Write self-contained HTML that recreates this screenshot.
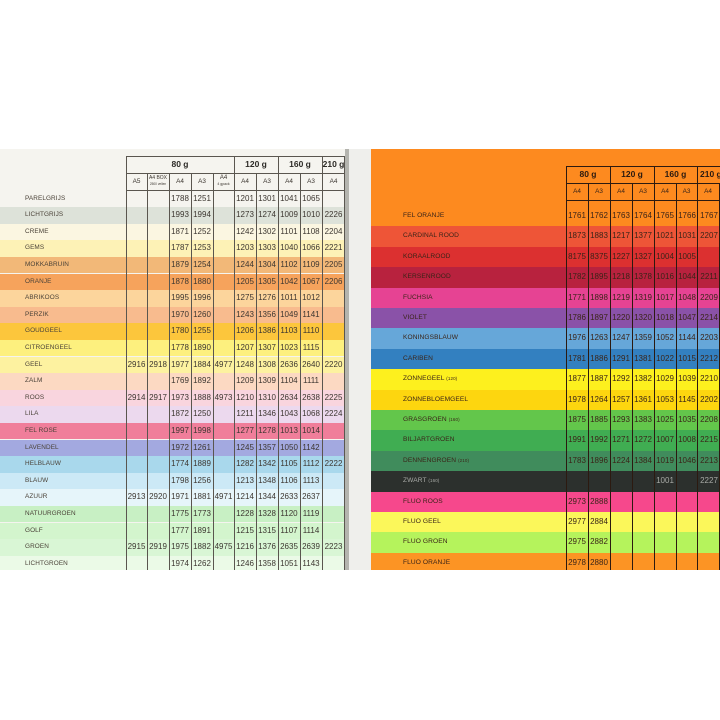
<!DOCTYPE html>
<html><head><meta charset="utf-8">
<style>
*{margin:0;padding:0;box-sizing:border-box}
body{width:720px;height:720px;background:#fff;position:relative;overflow:hidden;font-family:"Liberation Sans",sans-serif}
.a{position:absolute}
.lp{left:0;top:149px;width:346px;height:421px;background:#f5f4ef}
.sp{left:345px;top:149px;width:4px;height:421px;background:#b4b4ae}
.sp2{left:349px;top:149px;width:22px;height:421px;background:#efefec}
.rp{left:371px;top:149px;width:349px;height:421px;background:#fd8a1f}
.lr{position:absolute;left:0;width:345px;height:16.6px}
.lr .n{position:absolute;left:25px;top:0;line-height:16.6px;font-size:6.4px;color:#4a4238;letter-spacing:0.1px}
.lr .c{position:absolute;top:0;line-height:16.6px;font-size:8px;color:#3c3630;text-align:center}
.rr{position:absolute;left:371px;width:349px;height:20.4px}
.rr .n{position:absolute;left:32px;top:0;line-height:20.4px;font-size:6.6px;color:#3a2418;letter-spacing:0.1px}
.rr .n small{font-size:4.5px}
.rr .c{position:absolute;top:0;line-height:20.4px;font-size:8px;color:#3a2418;text-align:center}
.vl{position:absolute;width:1px;background:#5a564f}
.hl{position:absolute;height:1px;background:#5a564f}
.vr{position:absolute;width:1px;background:#2c1a10}
.hr{position:absolute;height:1px;background:#2c1a10}
.h{position:absolute;text-align:center;font-weight:bold;font-size:8.5px;color:#2c2a26}
.s{position:absolute;text-align:center;font-size:6.4px;color:#3c3630}
</style></head><body>
<div class="a lp"></div>
<div class="a sp"></div>
<div class="a sp2"></div>
<div class="a rp"></div>

<!-- left rows -->
<div class="lr" style="top:190.5px;background:#f5f4ef"><span class="n">PARELGRIJS</span><span class="c" style="left:169px;width:22px">1788</span><span class="c" style="left:191px;width:22px">1251</span><span class="c" style="left:234px;width:22px">1201</span><span class="c" style="left:256px;width:22px">1301</span><span class="c" style="left:278px;width:22px">1041</span><span class="c" style="left:300px;width:22px">1065</span></div>
<div class="lr" style="top:207.1px;background:#dde2d9"><span class="n">LICHTGRIJS</span><span class="c" style="left:169px;width:22px">1993</span><span class="c" style="left:191px;width:22px">1994</span><span class="c" style="left:234px;width:22px">1273</span><span class="c" style="left:256px;width:22px">1274</span><span class="c" style="left:278px;width:22px">1009</span><span class="c" style="left:300px;width:22px">1010</span><span class="c" style="left:322px;width:23px">2226</span></div>
<div class="lr" style="top:223.7px;background:#fbf6e1"><span class="n">CREME</span><span class="c" style="left:169px;width:22px">1871</span><span class="c" style="left:191px;width:22px">1252</span><span class="c" style="left:234px;width:22px">1242</span><span class="c" style="left:256px;width:22px">1302</span><span class="c" style="left:278px;width:22px">1101</span><span class="c" style="left:300px;width:22px">1108</span><span class="c" style="left:322px;width:23px">2204</span></div>
<div class="lr" style="top:240.3px;background:#fdf2b6"><span class="n">GEMS</span><span class="c" style="left:169px;width:22px">1787</span><span class="c" style="left:191px;width:22px">1253</span><span class="c" style="left:234px;width:22px">1203</span><span class="c" style="left:256px;width:22px">1303</span><span class="c" style="left:278px;width:22px">1040</span><span class="c" style="left:300px;width:22px">1066</span><span class="c" style="left:322px;width:23px">2221</span></div>
<div class="lr" style="top:256.9px;background:#f2b878"><span class="n">MOKKABRUIN</span><span class="c" style="left:169px;width:22px">1879</span><span class="c" style="left:191px;width:22px">1254</span><span class="c" style="left:234px;width:22px">1244</span><span class="c" style="left:256px;width:22px">1304</span><span class="c" style="left:278px;width:22px">1102</span><span class="c" style="left:300px;width:22px">1109</span><span class="c" style="left:322px;width:23px">2205</span></div>
<div class="lr" style="top:273.5px;background:#f6a35c"><span class="n">ORANJE</span><span class="c" style="left:169px;width:22px">1878</span><span class="c" style="left:191px;width:22px">1880</span><span class="c" style="left:234px;width:22px">1205</span><span class="c" style="left:256px;width:22px">1305</span><span class="c" style="left:278px;width:22px">1042</span><span class="c" style="left:300px;width:22px">1067</span><span class="c" style="left:322px;width:23px">2206</span></div>
<div class="lr" style="top:290.1px;background:#fcd59c"><span class="n">ABRIKOOS</span><span class="c" style="left:169px;width:22px">1995</span><span class="c" style="left:191px;width:22px">1996</span><span class="c" style="left:234px;width:22px">1275</span><span class="c" style="left:256px;width:22px">1276</span><span class="c" style="left:278px;width:22px">1011</span><span class="c" style="left:300px;width:22px">1012</span></div>
<div class="lr" style="top:306.7px;background:#f8bb8e"><span class="n">PERZIK</span><span class="c" style="left:169px;width:22px">1970</span><span class="c" style="left:191px;width:22px">1260</span><span class="c" style="left:234px;width:22px">1243</span><span class="c" style="left:256px;width:22px">1356</span><span class="c" style="left:278px;width:22px">1049</span><span class="c" style="left:300px;width:22px">1141</span></div>
<div class="lr" style="top:323.3px;background:#fcc63c"><span class="n">GOUDGEEL</span><span class="c" style="left:169px;width:22px">1780</span><span class="c" style="left:191px;width:22px">1255</span><span class="c" style="left:234px;width:22px">1206</span><span class="c" style="left:256px;width:22px">1386</span><span class="c" style="left:278px;width:22px">1103</span><span class="c" style="left:300px;width:22px">1110</span></div>
<div class="lr" style="top:339.9px;background:#fdf07e"><span class="n">CITROENGEEL</span><span class="c" style="left:169px;width:22px">1778</span><span class="c" style="left:191px;width:22px">1890</span><span class="c" style="left:234px;width:22px">1207</span><span class="c" style="left:256px;width:22px">1307</span><span class="c" style="left:278px;width:22px">1023</span><span class="c" style="left:300px;width:22px">1115</span></div>
<div class="lr" style="top:356.5px;background:#fdf2a0"><span class="n">GEEL</span><span class="c" style="left:126px;width:21px">2916</span><span class="c" style="left:147px;width:22px">2918</span><span class="c" style="left:169px;width:22px">1977</span><span class="c" style="left:191px;width:22px">1884</span><span class="c" style="left:213px;width:21px">4977</span><span class="c" style="left:234px;width:22px">1248</span><span class="c" style="left:256px;width:22px">1308</span><span class="c" style="left:278px;width:22px">2636</span><span class="c" style="left:300px;width:22px">2640</span><span class="c" style="left:322px;width:23px">2220</span></div>
<div class="lr" style="top:373.1px;background:#fcd9c2"><span class="n">ZALM</span><span class="c" style="left:169px;width:22px">1769</span><span class="c" style="left:191px;width:22px">1892</span><span class="c" style="left:234px;width:22px">1209</span><span class="c" style="left:256px;width:22px">1309</span><span class="c" style="left:278px;width:22px">1104</span><span class="c" style="left:300px;width:22px">1111</span></div>
<div class="lr" style="top:389.7px;background:#f9d5de"><span class="n">ROOS</span><span class="c" style="left:126px;width:21px">2914</span><span class="c" style="left:147px;width:22px">2917</span><span class="c" style="left:169px;width:22px">1973</span><span class="c" style="left:191px;width:22px">1888</span><span class="c" style="left:213px;width:21px">4973</span><span class="c" style="left:234px;width:22px">1210</span><span class="c" style="left:256px;width:22px">1310</span><span class="c" style="left:278px;width:22px">2634</span><span class="c" style="left:300px;width:22px">2638</span><span class="c" style="left:322px;width:23px">2225</span></div>
<div class="lr" style="top:406.3px;background:#ecd9ee"><span class="n">LILA</span><span class="c" style="left:169px;width:22px">1872</span><span class="c" style="left:191px;width:22px">1250</span><span class="c" style="left:234px;width:22px">1211</span><span class="c" style="left:256px;width:22px">1346</span><span class="c" style="left:278px;width:22px">1043</span><span class="c" style="left:300px;width:22px">1068</span><span class="c" style="left:322px;width:23px">2224</span></div>
<div class="lr" style="top:422.9px;background:#f07e9a"><span class="n">FEL ROSE</span><span class="c" style="left:169px;width:22px">1997</span><span class="c" style="left:191px;width:22px">1998</span><span class="c" style="left:234px;width:22px">1277</span><span class="c" style="left:256px;width:22px">1278</span><span class="c" style="left:278px;width:22px">1013</span><span class="c" style="left:300px;width:22px">1014</span></div>
<div class="lr" style="top:439.5px;background:#a3a9e0"><span class="n">LAVENDEL</span><span class="c" style="left:169px;width:22px">1972</span><span class="c" style="left:191px;width:22px">1261</span><span class="c" style="left:234px;width:22px">1245</span><span class="c" style="left:256px;width:22px">1357</span><span class="c" style="left:278px;width:22px">1050</span><span class="c" style="left:300px;width:22px">1142</span></div>
<div class="lr" style="top:456.1px;background:#a9d8ec"><span class="n">HELBLAUW</span><span class="c" style="left:169px;width:22px">1774</span><span class="c" style="left:191px;width:22px">1889</span><span class="c" style="left:234px;width:22px">1282</span><span class="c" style="left:256px;width:22px">1342</span><span class="c" style="left:278px;width:22px">1105</span><span class="c" style="left:300px;width:22px">1112</span><span class="c" style="left:322px;width:23px">2222</span></div>
<div class="lr" style="top:472.7px;background:#cce9f6"><span class="n">BLAUW</span><span class="c" style="left:169px;width:22px">1798</span><span class="c" style="left:191px;width:22px">1256</span><span class="c" style="left:234px;width:22px">1213</span><span class="c" style="left:256px;width:22px">1348</span><span class="c" style="left:278px;width:22px">1106</span><span class="c" style="left:300px;width:22px">1113</span></div>
<div class="lr" style="top:489.3px;background:#e6f5fa"><span class="n">AZUUR</span><span class="c" style="left:126px;width:21px">2913</span><span class="c" style="left:147px;width:22px">2920</span><span class="c" style="left:169px;width:22px">1971</span><span class="c" style="left:191px;width:22px">1881</span><span class="c" style="left:213px;width:21px">4971</span><span class="c" style="left:234px;width:22px">1214</span><span class="c" style="left:256px;width:22px">1344</span><span class="c" style="left:278px;width:22px">2633</span><span class="c" style="left:300px;width:22px">2637</span></div>
<div class="lr" style="top:505.9px;background:#c8f0c4"><span class="n">NATUURGROEN</span><span class="c" style="left:169px;width:22px">1775</span><span class="c" style="left:191px;width:22px">1773</span><span class="c" style="left:234px;width:22px">1228</span><span class="c" style="left:256px;width:22px">1328</span><span class="c" style="left:278px;width:22px">1120</span><span class="c" style="left:300px;width:22px">1119</span></div>
<div class="lr" style="top:522.5px;background:#d3f5cd"><span class="n">GOLF</span><span class="c" style="left:169px;width:22px">1777</span><span class="c" style="left:191px;width:22px">1891</span><span class="c" style="left:234px;width:22px">1215</span><span class="c" style="left:256px;width:22px">1315</span><span class="c" style="left:278px;width:22px">1107</span><span class="c" style="left:300px;width:22px">1114</span></div>
<div class="lr" style="top:539.1px;background:#d9f6d5"><span class="n">GROEN</span><span class="c" style="left:126px;width:21px">2915</span><span class="c" style="left:147px;width:22px">2919</span><span class="c" style="left:169px;width:22px">1975</span><span class="c" style="left:191px;width:22px">1882</span><span class="c" style="left:213px;width:21px">4975</span><span class="c" style="left:234px;width:22px">1216</span><span class="c" style="left:256px;width:22px">1376</span><span class="c" style="left:278px;width:22px">2635</span><span class="c" style="left:300px;width:22px">2639</span><span class="c" style="left:322px;width:23px">2223</span></div>
<div class="lr" style="top:555.7px;height:14.3px;background:#ebfae7"><span class="n">LICHTGROEN</span><span class="c" style="left:169px;width:22px">1974</span><span class="c" style="left:191px;width:22px">1262</span><span class="c" style="left:234px;width:22px">1246</span><span class="c" style="left:256px;width:22px">1358</span><span class="c" style="left:278px;width:22px">1051</span><span class="c" style="left:300px;width:22px">1143</span></div>

<!-- left table lines -->
<div class="hl" style="left:126px;top:156px;width:219px"></div>
<div class="hl" style="left:126px;top:173px;width:219px"></div>
<div class="hl" style="left:126px;top:190px;width:219px"></div>
<div class="vl" style="left:126px;top:156px;height:414px"></div>
<div class="vl" style="left:234px;top:156px;height:414px"></div>
<div class="vl" style="left:278px;top:156px;height:414px"></div>
<div class="vl" style="left:322px;top:156px;height:414px"></div>
<div class="vl" style="left:344px;top:156px;height:414px"></div>
<div class="vl" style="left:147px;top:173px;height:397px"></div>
<div class="vl" style="left:169px;top:173px;height:397px"></div>
<div class="vl" style="left:191px;top:173px;height:397px"></div>
<div class="vl" style="left:213px;top:173px;height:397px"></div>
<div class="vl" style="left:256px;top:173px;height:397px"></div>
<div class="vl" style="left:300px;top:173px;height:397px"></div>

<!-- left header -->
<div class="h" style="left:126px;width:108px;top:156px;line-height:17px">80 g</div>
<div class="h" style="left:234px;width:44px;top:156px;line-height:17px">120 g</div>
<div class="h" style="left:278px;width:44px;top:156px;line-height:17px">160 g</div>
<div class="h" style="left:322px;width:23px;top:156px;line-height:17px">210 g</div>
<div class="s" style="left:126px;width:21px;top:173px;line-height:17px">A5</div>
<div class="s" style="left:147px;width:22px;top:175px;line-height:6px;font-size:5px;white-space:nowrap;overflow:hidden">A4 BOX<br><span style="font-size:3.2px">2500 vellen</span></div>
<div class="s" style="left:169px;width:22px;top:173px;line-height:17px">A4</div>
<div class="s" style="left:191px;width:22px;top:173px;line-height:17px">A3</div>
<div class="s" style="left:213px;width:21px;top:175px;line-height:6px;font-size:6px">A4<br><span style="font-size:3.5px">4 gpack</span></div>
<div class="s" style="left:234px;width:22px;top:173px;line-height:17px">A4</div>
<div class="s" style="left:256px;width:22px;top:173px;line-height:17px">A3</div>
<div class="s" style="left:278px;width:22px;top:173px;line-height:17px">A4</div>
<div class="s" style="left:300px;width:22px;top:173px;line-height:17px">A3</div>
<div class="s" style="left:322px;width:23px;top:173px;line-height:17px">A4</div>

<!-- right rows -->
<div class="rr" style="top:206px;background:#fd8a1f"><span class="n">FEL ORANJE</span><span class="c" style="left:195px;width:22px">1761</span><span class="c" style="left:217px;width:22px">1762</span><span class="c" style="left:239px;width:22px">1763</span><span class="c" style="left:261px;width:22px">1764</span><span class="c" style="left:283px;width:22px">1765</span><span class="c" style="left:305px;width:22px">1766</span><span class="c" style="left:327px;width:22px">1767</span></div>
<div class="rr" style="top:226.4px;background:#ee5537"><span class="n">CARDINAL ROOD</span><span class="c" style="left:195px;width:22px">1873</span><span class="c" style="left:217px;width:22px">1883</span><span class="c" style="left:239px;width:22px">1217</span><span class="c" style="left:261px;width:22px">1377</span><span class="c" style="left:283px;width:22px">1021</span><span class="c" style="left:305px;width:22px">1031</span><span class="c" style="left:327px;width:22px">2207</span></div>
<div class="rr" style="top:246.8px;background:#dc3030"><span class="n">KORAALROOD</span><span class="c" style="left:195px;width:22px">8175</span><span class="c" style="left:217px;width:22px">8375</span><span class="c" style="left:239px;width:22px">1227</span><span class="c" style="left:261px;width:22px">1327</span><span class="c" style="left:283px;width:22px">1004</span><span class="c" style="left:305px;width:22px">1005</span></div>
<div class="rr" style="top:267.2px;background:#b8223e"><span class="n">KERSENROOD</span><span class="c" style="left:195px;width:22px">1782</span><span class="c" style="left:217px;width:22px">1895</span><span class="c" style="left:239px;width:22px">1218</span><span class="c" style="left:261px;width:22px">1378</span><span class="c" style="left:283px;width:22px">1016</span><span class="c" style="left:305px;width:22px">1044</span><span class="c" style="left:327px;width:22px">2211</span></div>
<div class="rr" style="top:287.6px;background:#e64393"><span class="n">FUCHSIA</span><span class="c" style="left:195px;width:22px">1771</span><span class="c" style="left:217px;width:22px">1898</span><span class="c" style="left:239px;width:22px">1219</span><span class="c" style="left:261px;width:22px">1319</span><span class="c" style="left:283px;width:22px">1017</span><span class="c" style="left:305px;width:22px">1048</span><span class="c" style="left:327px;width:22px">2209</span></div>
<div class="rr" style="top:308px;background:#8a52a8"><span class="n">VIOLET</span><span class="c" style="left:195px;width:22px">1786</span><span class="c" style="left:217px;width:22px">1897</span><span class="c" style="left:239px;width:22px">1220</span><span class="c" style="left:261px;width:22px">1320</span><span class="c" style="left:283px;width:22px">1018</span><span class="c" style="left:305px;width:22px">1047</span><span class="c" style="left:327px;width:22px">2214</span></div>
<div class="rr" style="top:328.4px;background:#66a7d9"><span class="n">KONINGSBLAUW</span><span class="c" style="left:195px;width:22px">1976</span><span class="c" style="left:217px;width:22px">1263</span><span class="c" style="left:239px;width:22px">1247</span><span class="c" style="left:261px;width:22px">1359</span><span class="c" style="left:283px;width:22px">1052</span><span class="c" style="left:305px;width:22px">1144</span><span class="c" style="left:327px;width:22px">2203</span></div>
<div class="rr" style="top:348.8px;background:#3380c0"><span class="n">CARIBEN</span><span class="c" style="left:195px;width:22px">1781</span><span class="c" style="left:217px;width:22px">1886</span><span class="c" style="left:239px;width:22px">1291</span><span class="c" style="left:261px;width:22px">1381</span><span class="c" style="left:283px;width:22px">1022</span><span class="c" style="left:305px;width:22px">1015</span><span class="c" style="left:327px;width:22px">2212</span></div>
<div class="rr" style="top:369.2px;background:#fdf01e"><span class="n">ZONNEGEEL <small>(120)</small></span><span class="c" style="left:195px;width:22px">1877</span><span class="c" style="left:217px;width:22px">1887</span><span class="c" style="left:239px;width:22px">1292</span><span class="c" style="left:261px;width:22px">1382</span><span class="c" style="left:283px;width:22px">1029</span><span class="c" style="left:305px;width:22px">1039</span><span class="c" style="left:327px;width:22px">2210</span></div>
<div class="rr" style="top:389.6px;background:#fdd60f"><span class="n">ZONNEBLOEMGEEL</span><span class="c" style="left:195px;width:22px">1978</span><span class="c" style="left:217px;width:22px">1264</span><span class="c" style="left:239px;width:22px">1257</span><span class="c" style="left:261px;width:22px">1361</span><span class="c" style="left:283px;width:22px">1053</span><span class="c" style="left:305px;width:22px">1145</span><span class="c" style="left:327px;width:22px">2202</span></div>
<div class="rr" style="top:410px;background:#63c64b"><span class="n">GRASGROEN <small>(160)</small></span><span class="c" style="left:195px;width:22px">1875</span><span class="c" style="left:217px;width:22px">1885</span><span class="c" style="left:239px;width:22px">1293</span><span class="c" style="left:261px;width:22px">1383</span><span class="c" style="left:283px;width:22px">1025</span><span class="c" style="left:305px;width:22px">1035</span><span class="c" style="left:327px;width:22px">2208</span></div>
<div class="rr" style="top:430.4px;background:#40ad52"><span class="n">BILJARTGROEN</span><span class="c" style="left:195px;width:22px">1991</span><span class="c" style="left:217px;width:22px">1992</span><span class="c" style="left:239px;width:22px">1271</span><span class="c" style="left:261px;width:22px">1272</span><span class="c" style="left:283px;width:22px">1007</span><span class="c" style="left:305px;width:22px">1008</span><span class="c" style="left:327px;width:22px">2215</span></div>
<div class="rr" style="top:450.8px;background:#408c5c"><span class="n">DENNENGROEN <small>(210)</small></span><span class="c" style="left:195px;width:22px">1783</span><span class="c" style="left:217px;width:22px">1896</span><span class="c" style="left:239px;width:22px">1224</span><span class="c" style="left:261px;width:22px">1384</span><span class="c" style="left:283px;width:22px">1019</span><span class="c" style="left:305px;width:22px">1046</span><span class="c" style="left:327px;width:22px">2213</span></div>
<div class="rr" style="top:471.2px;background:#2c302d"><span class="n" style="color:#a8aaa6">ZWART <small>(160)</small></span><span class="c" style="left:283px;width:22px;color:#a8aaa6">1001</span><span class="c" style="left:327px;width:22px;color:#a8aaa6">2227</span></div>
<div class="rr" style="top:491.6px;background:#f6488c"><span class="n">FLUO ROOS</span><span class="c" style="left:195px;width:22px">2973</span><span class="c" style="left:217px;width:22px">2888</span></div>
<div class="rr" style="top:512px;background:#fbf75a"><span class="n">FLUO GEEL</span><span class="c" style="left:195px;width:22px">2977</span><span class="c" style="left:217px;width:22px">2884</span></div>
<div class="rr" style="top:532.4px;background:#b5f35c"><span class="n">FLUO GROEN</span><span class="c" style="left:195px;width:22px">2975</span><span class="c" style="left:217px;width:22px">2882</span></div>
<div class="rr" style="top:552.8px;height:17.2px;background:#fc9424"><span class="n">FLUO ORANJE</span><span class="c" style="left:195px;width:22px">2978</span><span class="c" style="left:217px;width:22px">2880</span></div>

<!-- right table lines -->
<div class="hr" style="left:566px;top:166px;width:154px"></div>
<div class="hr" style="left:566px;top:183px;width:154px"></div>
<div class="hr" style="left:566px;top:200px;width:154px"></div>
<div class="vr" style="left:566px;top:166px;height:404px"></div>
<div class="vr" style="left:610px;top:166px;height:404px"></div>
<div class="vr" style="left:654px;top:166px;height:404px"></div>
<div class="vr" style="left:697px;top:166px;height:404px"></div>
<div class="vr" style="left:588px;top:183px;height:387px"></div>
<div class="vr" style="left:632px;top:183px;height:387px"></div>
<div class="vr" style="left:676px;top:183px;height:387px"></div>
<div class="vr" style="left:719px;top:183px;height:387px"></div>

<!-- right header -->
<div class="h" style="left:566px;width:44px;top:166px;line-height:17px;color:#2a1a10">80 g</div>
<div class="h" style="left:610px;width:44px;top:166px;line-height:17px;color:#2a1a10">120 g</div>
<div class="h" style="left:654px;width:43px;top:166px;line-height:17px;color:#2a1a10">160 g</div>
<div class="h" style="left:700px;width:30px;top:166px;line-height:17px;color:#2a1a10;text-align:left">210 g</div>
<div class="s" style="left:566px;width:22px;top:183px;line-height:17px;color:#3a2418">A4</div>
<div class="s" style="left:588px;width:22px;top:183px;line-height:17px;color:#3a2418">A3</div>
<div class="s" style="left:610px;width:22px;top:183px;line-height:17px;color:#3a2418">A4</div>
<div class="s" style="left:632px;width:22px;top:183px;line-height:17px;color:#3a2418">A3</div>
<div class="s" style="left:654px;width:22px;top:183px;line-height:17px;color:#3a2418">A4</div>
<div class="s" style="left:676px;width:21px;top:183px;line-height:17px;color:#3a2418">A3</div>
<div class="s" style="left:697px;width:22px;top:183px;line-height:17px;color:#3a2418">A4</div>
</body></html>
